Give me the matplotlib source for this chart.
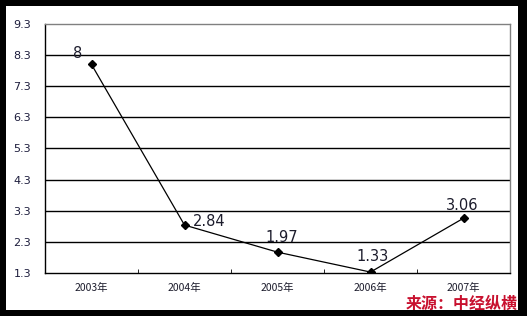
import matplotlib as mpl
mpl.use("Agg")
import matplotlib.pyplot as plt
import matplotlib.patches as mpatches

plt.rcParams['font.family'] = ['DejaVu Sans', 'Noto Sans CJK SC']

# Data
years = ["2003年", "2004年", "2005年", "2006年", "2007年"]
values = [8, 2.84, 1.97, 1.33, 3.06]
value_labels = ["8", "2.84", "1.97", "1.33", "3.06"]
yticks = [1.3, 2.3, 3.3, 4.3, 5.3, 6.3, 7.3, 8.3, 9.3]
source = "来源：中经纵横"

# label offsets in pixels (dx, dy, ha)
offsets = [(-14, 11, "center"), (8, 4, "left"), (4, 15, "center"),
           (2, 16, "center"), (-1, 13, "center")]

W, H = 527, 316
fig = plt.figure(figsize=(W / 100, H / 100), dpi=100)
fig.patch.set_facecolor("black")
fig.patches.append(mpatches.Rectangle((6 / W, 6 / H), (518 - 6) / W, (310 - 6) / H,
                                      transform=fig.transFigure, facecolor="white",
                                      edgecolor="none", zorder=-10))

ax = fig.add_axes([45 / W, (H - 273) / H, (510 - 45) / W, (273 - 24) / H])
ax.set_facecolor("white")

x = list(range(len(years)))
ax.plot(x, values, color="black", lw=0.9, marker="D", markersize=4.2,
        markerfacecolor="black", markeredgecolor="black", zorder=3)

for xi, v, lab, (dx, dy, ha) in zip(x, values, value_labels, offsets):
    ax.annotate(lab, (xi, v), xytext=(dx, dy), textcoords="offset pixels",
                ha=ha, va="center", fontsize=10.5, color="#1c1c2c")

ax.set_ylim(1.3, 9.3)
ax.set_xlim(-0.5, len(years) - 0.5)
ax.set_yticks(yticks)
ax.set_yticklabels([f"{t:.1f}" for t in yticks], fontsize=8, color="#1c1c3c")
ax.tick_params(axis="y", length=0, pad=10)

for t in yticks[1:-1]:
    ax.axhline(t, color="black", lw=1, zorder=1)

ax.set_xticks(x)
ax.set_xticklabels(years, fontsize=7.5, color="#1c1c2c",
                   family=['Noto Sans CJK SC', 'DejaVu Sans'])
ax.tick_params(axis="x", length=0, pad=7)
ax.set_xticks([i + 0.5 for i in x[:-1]], minor=True)
ax.tick_params(axis="x", which="minor", direction="in", length=3, color="black")

ax.spines["left"].set_color("black")
ax.spines["bottom"].set_color("black")
ax.spines["top"].set_color("#808080")
ax.spines["right"].set_color("#808080")
for s in ax.spines.values():
    s.set_linewidth(1)

fig.text(518 / W, (H - 304) / H, source, ha="right", va="center", fontsize=11.5,
         fontweight="bold", color="#c8102e", zorder=5,
         family=['Noto Sans CJK SC', 'DejaVu Sans'])

fig.savefig("out.png", dpi=100, facecolor=fig.get_facecolor())
